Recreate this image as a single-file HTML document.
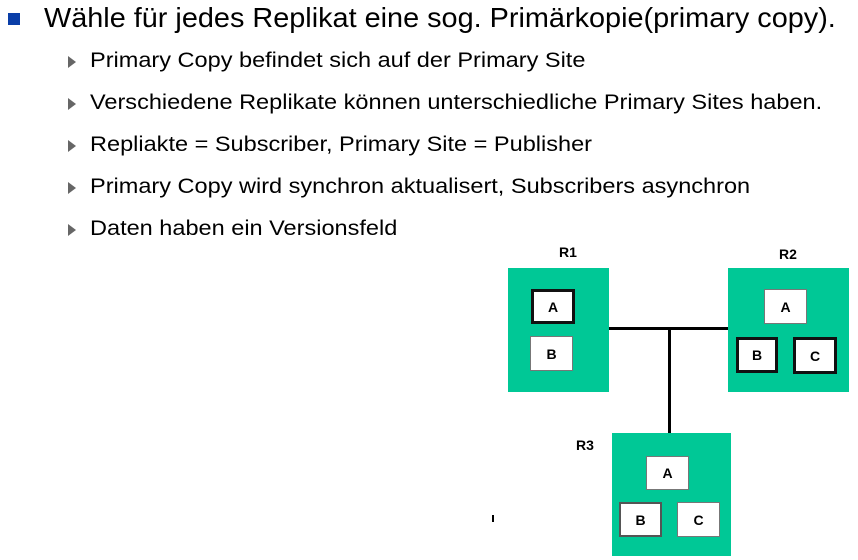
<!DOCTYPE html>
<html><head><meta charset="utf-8"><style>
body{margin:0;width:858px;height:560px;background:#fff;position:relative;overflow:hidden;font-family:"Liberation Sans",Arial,sans-serif;color:#000}
.a{position:absolute;white-space:nowrap;transform-origin:0 0}
.h{font-size:28px;left:44px;top:2px;transform:scaleX(1.03)}
.s{font-size:21px;left:90px;transform:scaleX(1.12)}
.tri{position:absolute;left:68px;width:0;height:0;border-top:6px solid transparent;border-bottom:6px solid transparent;border-left:8px solid #666}
.g{position:absolute;background:#00c896}
.b{position:absolute;background:#fff;border:1px solid #777;box-sizing:border-box;font-weight:bold;font-size:14px;display:flex;align-items:center;justify-content:center}
.t{border:3px solid #111}
.l{position:absolute;font-weight:bold;font-size:14px}
.k{position:absolute;background:#000}
</style></head><body>
<div class="a" style="left:8px;top:13px;width:12px;height:12px;background:#0a3ea8"></div>
<div class="a h">Wähle für jedes Replikat eine sog. Primärkopie(primary copy).</div>
<div class="tri" style="top:56px"></div><div class="a s" style="top:49px">Primary Copy befindet sich auf der Primary Site</div>
<div class="tri" style="top:98px"></div><div class="a s" style="top:91px">Verschiedene Replikate können unterschiedliche Primary Sites haben.</div>
<div class="tri" style="top:140px"></div><div class="a s" style="top:133px">Repliakte = Subscriber, Primary Site = Publisher</div>
<div class="tri" style="top:182px"></div><div class="a s" style="top:175px">Primary Copy wird synchron aktualisert, Subscribers asynchron</div>
<div class="tri" style="top:224px"></div><div class="a s" style="top:217px">Daten haben ein Versionsfeld</div>

<div class="k" style="left:609px;top:327px;width:119px;height:3px"></div>
<div class="k" style="left:668px;top:328px;width:3px;height:106px"></div>

<div class="l" style="left:559px;top:244px">R1</div>
<div class="g" style="left:508px;top:268px;width:101px;height:124px"></div>
<div class="b t" style="left:531px;top:289px;width:44px;height:35px">A</div>
<div class="b" style="left:530px;top:336px;width:43px;height:35px">B</div>

<div class="l" style="left:779px;top:246px">R2</div>
<div class="g" style="left:728px;top:268px;width:121px;height:124px"></div>
<div class="b" style="left:764px;top:289px;width:43px;height:35px">A</div>
<div class="b t" style="left:736px;top:337px;width:42px;height:36px">B</div>
<div class="b t" style="left:793px;top:337px;width:44px;height:37px">C</div>

<div class="l" style="left:576px;top:437px">R3</div>
<div class="g" style="left:612px;top:433px;width:119px;height:123px"></div>
<div class="b" style="left:646px;top:456px;width:43px;height:34px">A</div>
<div class="b" style="left:619px;top:502px;width:43px;height:35px;border:2px solid #555">B</div>
<div class="b" style="left:677px;top:502px;width:43px;height:35px">C</div>

<div class="k" style="left:492px;top:515px;width:2px;height:7px"></div>
</body></html>
